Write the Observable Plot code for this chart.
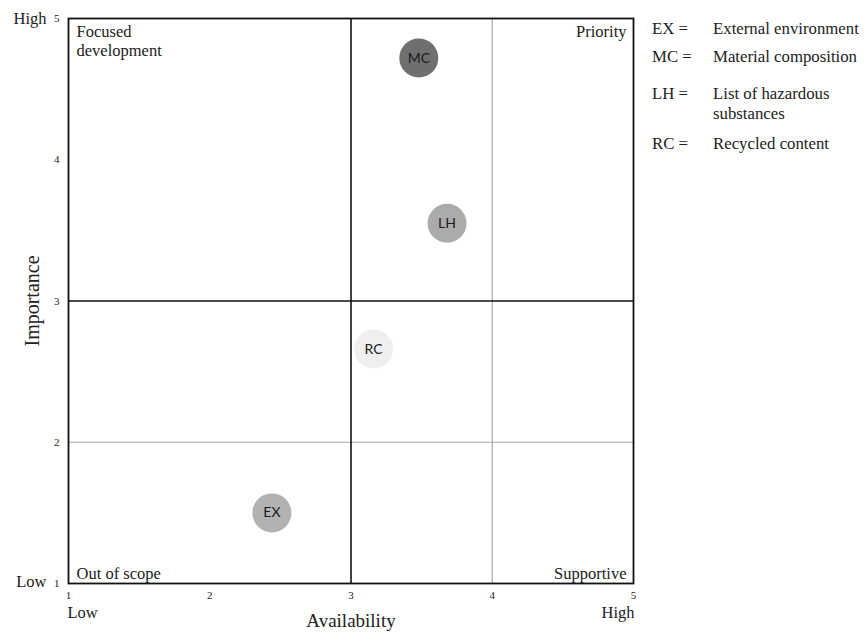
<!DOCTYPE html>
<html>
<head>
<meta charset="utf-8">
<script src="https://cdn.jsdelivr.net/npm/d3@7"></script>
<script src="https://cdn.jsdelivr.net/npm/@observablehq/plot@0.6"></script>
<style>
  body { margin: 0; background: #fff; }
  #wrap { position: relative; width: 866px; height: 633px; overflow: hidden; }
  #legend { position: absolute; left: 652px; top: 19px; font-family: "Liberation Serif", serif; font-size: 16.8px; color: #222; }
  #legend .row { display: flex; line-height: 20px; }
  #legend .row:nth-child(2) { margin-top: 8px; }
  #legend .row:nth-child(3) { margin-top: 17px; }
  #legend .row:nth-child(4) { margin-top: 10px; }
  #legend .k { width: 61px; }
  #legend .v { width: 160px; }
</style>
</head>
<body>
<div id="wrap"><div id="chart"></div><div id="legend"></div></div>
<script>
const codes = ["EX", "MC", "LH", "RC"];
const names = ["External environment", "Material composition", "List of hazardous substances", "Recycled content"];
const availability = [2.44, 3.48, 3.68, 3.16];
const importance = [1.50, 4.72, 3.55, 2.66];
const fills = ["#b2b2b2", "#6f6f6f", "#ababab", "#efefef"];
const tickValues = [1, 2, 3, 4, 5];
const quadrantLabels = [
  {text: "Focused\ndevelopment", anchor: "top-left"},
  {text: "Priority", anchor: "top-right"},
  {text: "Out of scope", anchor: "bottom-left"},
  {text: "Supportive", anchor: "bottom-right"}
];
const dividers = [3];
const guides = {x: [4], y: [2]};

const points = codes.map((c, i) => ({code: c, x: availability[i], y: importance[i], fill: fills[i]}));
const serif = "Liberation Serif, serif";

const chart = Plot.plot({
  width: 866,
  height: 633,
  marginLeft: 68,
  marginRight: 233,
  marginTop: 18,
  marginBottom: 50,
  style: {fontFamily: serif, background: "#fff", color: "#222"},
  x: {domain: [1, 5], label: null},
  y: {domain: [1, 5], label: null},
  marks: [
    Plot.ruleX(guides.x, {stroke: "#a8a8a8", strokeWidth: 1.2}),
    Plot.ruleY(guides.y, {stroke: "#a8a8a8", strokeWidth: 1.2}),
    Plot.ruleX(dividers, {stroke: "#111", strokeWidth: 1.6}),
    Plot.ruleY(dividers, {stroke: "#111", strokeWidth: 1.6}),
    Plot.frame({stroke: "#111", strokeWidth: 1.8}),
    ...quadrantLabels.map(q => Plot.text([q.text], {
      frameAnchor: q.anchor,
      dx: q.anchor.endsWith("left") ? 8 : -7,
      dy: q.anchor.startsWith("top") ? 4 : -5,
      fontSize: 16.5, fill: "#222", lineHeight: 1.2
    })),
    Plot.dot(points, {x: "x", y: "y", r: 19.5, fill: "fill", stroke: "none"}),
    Plot.text(points, {x: "x", y: "y", text: "code", fontFamily: "Lato, Open Sans, sans-serif", fontSize: 14, fill: "#1a1a1a"}),
    Plot.axisX({ticks: tickValues, tickSize: 0, tickPadding: 8, fontSize: 11, tickFormat: d => String(d), label: null}),
    Plot.axisY({ticks: tickValues, tickSize: 0, tickPadding: 9, fontSize: 11, tickFormat: d => String(d), label: null}),
    Plot.text(["High"], {frameAnchor: "top-left", dx: -22, dy: -6, textAnchor: "end", fontSize: 16.5}),
    Plot.text(["Low"], {frameAnchor: "bottom-left", dx: -22, dy: 3, textAnchor: "end", lineAnchor: "bottom", fontSize: 16.5}),
    Plot.text(["Low"], {frameAnchor: "bottom-left", dx: -1, dy: 23, textAnchor: "start", lineAnchor: "top", fontSize: 16.5}),
    Plot.text(["High"], {frameAnchor: "bottom-right", dx: 1, dy: 23, textAnchor: "end", lineAnchor: "top", fontSize: 16.5}),
    Plot.text(["Availability"], {frameAnchor: "bottom", dy: 30, lineAnchor: "top", fontSize: 19}),
    Plot.text(["Importance"], {frameAnchor: "left", dx: -36, rotate: -90, textAnchor: "middle", fontSize: 20})
  ]
});
document.getElementById("chart").appendChild(chart);

const legend = document.getElementById("legend");
codes.forEach((c, i) => {
  const row = document.createElement("div");
  row.className = "row";
  row.innerHTML = `<div class="k">${c} =</div><div class="v">${names[i]}</div>`;
  legend.appendChild(row);
});
</script>
</body>
</html>
